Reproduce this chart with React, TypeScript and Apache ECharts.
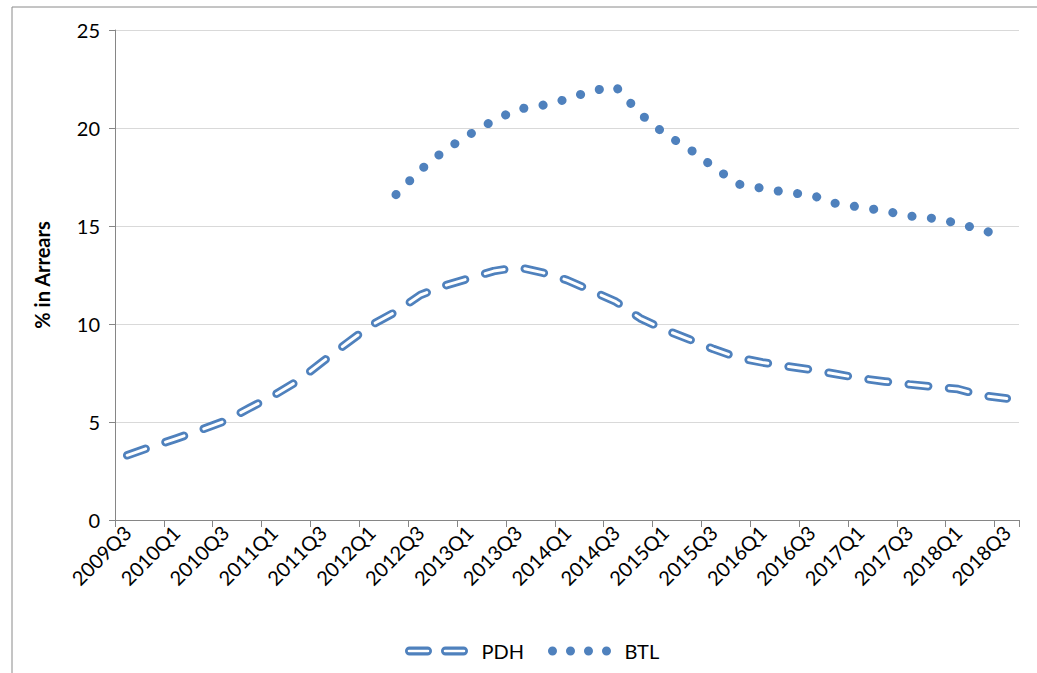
import React, { useEffect, useRef } from "react";
import * as echarts from "echarts";

const categories = [
  "2009Q3", "2009Q4", "2010Q1", "2010Q2", "2010Q3", "2010Q4", "2011Q1", "2011Q2",
  "2011Q3", "2011Q4", "2012Q1", "2012Q2", "2012Q3", "2012Q4", "2013Q1", "2013Q2",
  "2013Q3", "2013Q4", "2014Q1", "2014Q2", "2014Q3", "2014Q4", "2015Q1", "2015Q2",
  "2015Q3", "2015Q4", "2016Q1", "2016Q2", "2016Q3", "2016Q4", "2017Q1", "2017Q2",
  "2017Q3", "2017Q4", "2018Q1", "2018Q2", "2018Q3",
];

const pdhValues = [
  3.3, 3.74, 4.15, 4.59, 5.05, 5.71, 6.36, 7.11, 8.08, 9.03, 9.95, 10.63, 11.48,
  11.96, 12.33, 12.7, 12.9, 12.62, 12.24, 11.7, 11.14, 10.29, 9.71, 9.22, 8.72,
  8.28, 8.04, 7.84, 7.67, 7.45, 7.23, 7.07, 6.92, 6.8, 6.68, 6.35, 6.2,
];

const btlStart = "2012Q2";
const btlValues = [
  16.6, 17.86, 18.87, 19.66, 20.39, 20.96, 21.16, 21.47, 21.9, 22.1, 20.72, 19.7,
  18.94, 18.01, 17.14, 16.92, 16.71, 16.58, 16.15, 15.96, 15.77, 15.51, 15.39,
  15.14, 14.78, 14.45,
];

const yTicks = { min: 0, max: 25, interval: 5 };

const BLUE = "#4F81BD";
const FONT = "Lato, 'Noto Sans', sans-serif";

const pdhIcon =
  "path://M5 0 L25 0 A5 5 0 0 1 25 10 L5 10 A5 5 0 0 1 5 0 Z " +
  "M4.5 3.5 A1.5 1.5 0 0 0 4.5 6.5 L25.5 6.5 A1.5 1.5 0 0 0 25.5 3.5 Z " +
  "M45 0 L65 0 A5 5 0 0 1 65 10 L45 10 A5 5 0 0 1 45 0 Z " +
  "M44.5 3.5 A1.5 1.5 0 0 0 44.5 6.5 L65.5 6.5 A1.5 1.5 0 0 0 65.5 3.5 Z";

const btlIcon =
  "path://M0 5 A5 5 0 1 0 10 5 A5 5 0 1 0 0 5 Z " +
  "M20 5 A5 5 0 1 0 30 5 A5 5 0 1 0 20 5 Z " +
  "M40 5 A5 5 0 1 0 50 5 A5 5 0 1 0 40 5 Z " +
  "M60 5 A5 5 0 1 0 70 5 A5 5 0 1 0 60 5 Z";

export default function App() {
  const ref = useRef<HTMLDivElement>(null);

  useEffect(() => {
    document.body.style.margin = "0";
    if (!ref.current) return;
    const chart = echarts.init(ref.current, null, { renderer: "svg" });

    const startIdx = categories.indexOf(btlStart);
    const btlData = categories.map((_, i) =>
      i >= startIdx && i - startIdx < btlValues.length ? btlValues[i - startIdx] : null
    );

    const dash = [19.5, 21];

    chart.setOption({
      animation: false,
      backgroundColor: "#ffffff",
      textStyle: { fontFamily: FONT },
      grid: { left: 115, right: 18, top: 30, bottom: 153, containLabel: false },
      graphic: [
        {
          type: "rect",
          shape: { x: 12, y: 7, width: 1100, height: 800 },
          style: { fill: "none", stroke: "#8a8a8a", lineWidth: 1 },
          silent: true,
          z: -10,
        },
      ],
      legend: {
        left: 400,
        top: 636,
        itemWidth: 70,
        itemHeight: 9,
        itemGap: 24,
        itemStyle: { color: BLUE, borderWidth: 0 },
        textStyle: { fontSize: 20, color: "#000", fontFamily: FONT, padding: [0, 0, 0, 5] },
        data: [
          { name: "PDH", icon: pdhIcon },
          { name: "BTL", icon: btlIcon },
        ],
        selectedMode: false,
      },
      xAxis: {
        type: "category",
        data: categories,
        boundaryGap: true,
        axisLine: { show: true, lineStyle: { color: "#868686", width: 1 } },
        axisTick: { show: true, interval: 1, length: 7, lineStyle: { color: "#868686" } },
        axisLabel: {
          interval: 1,
          rotate: 45,
          margin: 9,
          fontSize: 20,
          color: "#000",
          fontFamily: FONT,
        },
        splitLine: { show: false },
      },
      yAxis: {
        type: "value",
        min: yTicks.min,
        max: yTicks.max,
        interval: yTicks.interval,
        name: "% in Arrears",
        nameLocation: "middle",
        nameGap: 63,
        nameTextStyle: { fontSize: 20, fontWeight: "bold", color: "#000", fontFamily: FONT },
        axisLine: { show: true, lineStyle: { color: "#868686", width: 1 } },
        axisTick: { show: true, inside: false, length: 6, lineStyle: { color: "#868686" } },
        axisLabel: { margin: 15, fontSize: 20, color: "#000", fontFamily: FONT },
        splitLine: { show: true, lineStyle: { color: "#D9D9D9", width: 1 } },
      },
      series: [
        {
          name: "PDH",
          type: "line",
          data: pdhValues,
          color: BLUE,
          showSymbol: false,
          symbol: "none",
          lineStyle: { color: BLUE, width: 8.5, type: dash, cap: "round", join: "round" },
          z: 2,
        },
        {
          name: "PDH-inner",
          type: "line",
          data: pdhValues,
          color: "#ffffff",
          showSymbol: false,
          symbol: "none",
          lineStyle: { color: "#ffffff", width: 3, type: dash, cap: "round", join: "round" },
          z: 3,
          silent: true,
        },
        {
          name: "BTL",
          type: "line",
          data: btlData,
          color: BLUE,
          showSymbol: false,
          symbol: "none",
          connectNulls: false,
          lineStyle: { color: BLUE, width: 9, type: [0.1, 19.4], cap: "round", join: "round" },
          z: 2,
        },
      ],
    });

    return () => chart.dispose();
  }, []);

  return <div ref={ref} style={{ width: 1037, height: 673 }} />;
}
